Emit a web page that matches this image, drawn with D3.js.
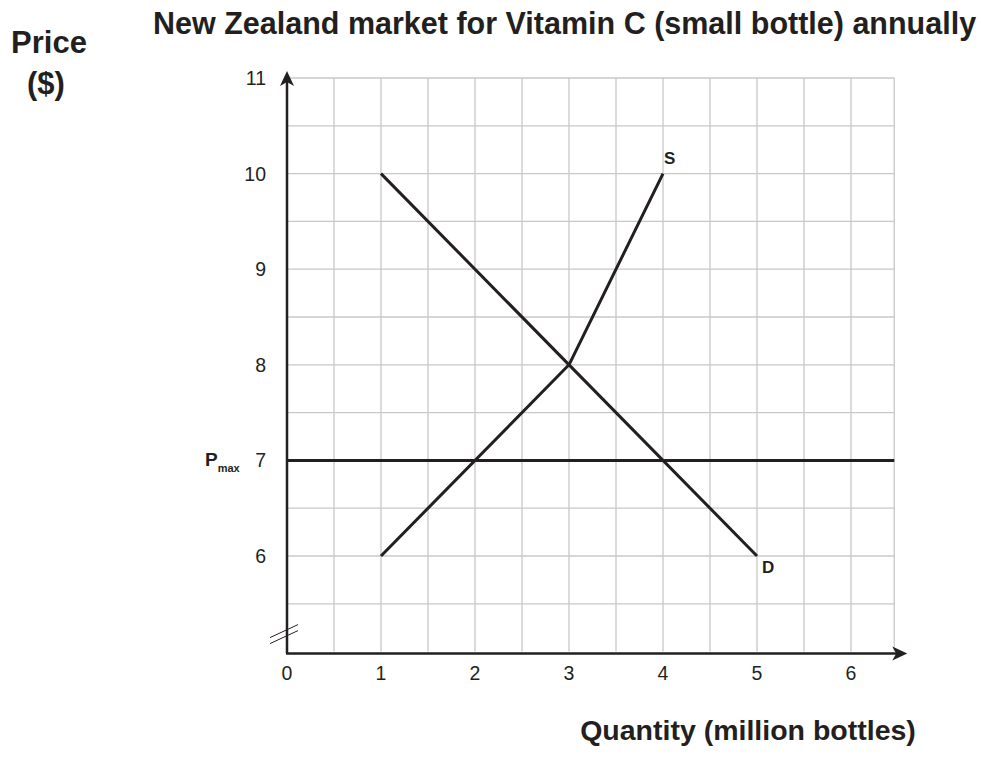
<!DOCTYPE html>
<html>
<head>
<meta charset="utf-8">
<script src="https://cdn.jsdelivr.net/npm/d3@7"></script>
<style>
body{margin:0;background:#fff;}
text{font-family:"Liberation Sans",Arial,sans-serif;fill:#231f20;}
</style>
</head>
<body>
<script>
// data
var xTicks = [0,1,2,3,4,5,6];
var yTicks = [6,7,8,9,10,11];
var demandQ = [1,5];
var demandP = [10,6];
var supplyQ = [1,3,4];
var supplyP = [6,8,10];
var priceMax = 7;

var width=981, height=771;
var ink="#231f20";

var x = d3.scaleLinear().domain([0,6]).range([287,851]);
var y = d3.scaleLinear().domain([6,11]).range([556,78]);
var xEnd = 6.46;   // right edge of grid
var yBase = 5;     // broken axis starts here

var svg = d3.select("body").append("svg")
    .attr("width",width)
    .attr("height",height);

// grid
var grid = svg.append("g");
var xs = d3.range(0.5,xEnd,0.5).concat([xEnd]);
grid.selectAll("line.v").data(xs).enter().append("line")
    .attr("x1",d=>x(d)).attr("x2",d=>x(d))
    .attr("y1",y(yBase)).attr("y2",y(11))
    .attr("stroke","#c8c8c8").attr("stroke-width",1.3);
var ys = d3.range(5.5,11.01,0.5);
grid.selectAll("line.h").data(ys).enter().append("line")
    .attr("x1",x(0)).attr("x2",x(xEnd))
    .attr("y1",d=>y(d)).attr("y2",d=>y(d))
    .attr("stroke","#c8c8c8").attr("stroke-width",1.3);

// axes
svg.append("line")
    .attr("x1",x(0)).attr("x2",x(0))
    .attr("y1",y(yBase)+2).attr("y2",y(11)-2)
    .attr("stroke",ink).attr("stroke-width",2.5);
svg.append("path")
    .attr("d","M"+x(0)+","+(y(11)-7)+"l-7,15l7,-4l7,4z")
    .attr("fill",ink);
svg.append("line")
    .attr("x1",x(0)-1).attr("x2",x(xEnd)+4)
    .attr("y1",y(yBase)+2).attr("y2",y(yBase)+2)
    .attr("stroke",ink).attr("stroke-width",2.5);
svg.append("path")
    .attr("d","M"+(x(xEnd)+13)+","+(y(yBase)+2)+"l-15,-7l4,7l-4,7z")
    .attr("fill",ink);

// axis break marks
[0,6].forEach(function(off){
    svg.append("line")
        .attr("x1",x(0)-17).attr("y1",y(yBase)-14+off)
        .attr("x2",x(0)+11).attr("y2",y(yBase)-27+off)
        .attr("stroke",ink).attr("stroke-width",1);
});

// tick labels
svg.append("g").selectAll("text").data(xTicks).enter().append("text")
    .attr("x",d=>x(d)).attr("y",y(yBase)+28)
    .attr("text-anchor","middle").attr("font-size",19.5)
    .text(d=>d);
svg.append("g").selectAll("text").data(yTicks).enter().append("text")
    .attr("x",x(0)-21).attr("y",d=>y(d)+7)
    .attr("text-anchor","end").attr("font-size",19.5)
    .text(d=>d);

// P max label
var pm = svg.append("text")
    .attr("x",x(0)-82).attr("y",y(priceMax)+6)
    .attr("font-size",19).attr("font-weight","bold");
pm.append("tspan").text("P");
pm.append("tspan").attr("font-size",11).attr("dy",6).text("max");

// curves
var line = d3.line().x(d=>x(d[0])).y(d=>y(d[1]));
svg.append("path")
    .datum([[0,priceMax],[xEnd,priceMax]])
    .attr("d",line).attr("fill","none")
    .attr("stroke",ink).attr("stroke-width",3);
svg.append("path")
    .datum(d3.zip(demandQ,demandP))
    .attr("d",line).attr("fill","none")
    .attr("stroke",ink).attr("stroke-width",3);
svg.append("path")
    .datum(d3.zip(supplyQ,supplyP))
    .attr("d",line).attr("fill","none")
    .attr("stroke",ink).attr("stroke-width",3)
    .attr("stroke-linejoin","round");

svg.append("text")
    .attr("x",x(4)+1).attr("y",y(10)-10)
    .attr("font-size",17).attr("font-weight","bold").text("S");
svg.append("text")
    .attr("x",x(5)+5).attr("y",y(6)+17)
    .attr("font-size",17).attr("font-weight","bold").text("D");

// titles
svg.append("text")
    .attr("x",153).attr("y",34)
    .attr("font-size",30.5).attr("font-weight","bold")
    .text("New Zealand market for Vitamin C (small bottle) annually");
svg.append("text")
    .attr("x",49).attr("y",53)
    .attr("text-anchor","middle")
    .attr("font-size",31).attr("font-weight","bold").text("Price");
svg.append("text")
    .attr("x",46).attr("y",94)
    .attr("text-anchor","middle")
    .attr("font-size",31).attr("font-weight","bold").text("($)");
svg.append("text")
    .attr("x",748).attr("y",740)
    .attr("text-anchor","middle")
    .attr("font-size",28.5).attr("font-weight","bold").text("Quantity (million bottles)");
</script>
</body>
</html>
